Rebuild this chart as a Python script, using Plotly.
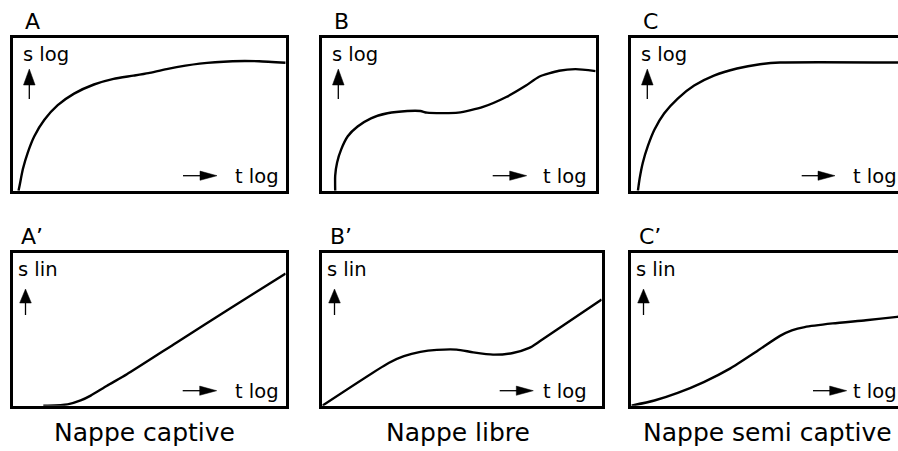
import plotly.graph_objects as go

FIG_W, FIG_H = 898, 451
FRAME_W = 2.7
CURVE_W = 2.4
FONT = "DejaVu Sans"

# Diagnostic drawdown curves: t = position along the log-time axis,
# s = drawdown, both scaled 0..1 inside each frame.
a_t = [0.019, 0.023, 0.035, 0.053, 0.077, 0.114, 0.163, 0.223, 0.296, 0.368,
       0.441, 0.496, 0.563, 0.684, 0.805, 0.902, 1.0]
a_s = [0.0, 0.034, 0.142, 0.250, 0.357, 0.465, 0.561, 0.637, 0.697, 0.734,
       0.755, 0.772, 0.798, 0.834, 0.850, 0.850, 0.840]

b_t = [0.047, 0.047, 0.054, 0.069, 0.093, 0.129, 0.178, 0.238, 0.311, 0.359,
       0.383, 0.497, 0.588, 0.673, 0.745, 0.793, 0.866, 0.926, 1.0]
b_s = [0.0, 0.099, 0.185, 0.271, 0.357, 0.421, 0.475, 0.508, 0.523, 0.523,
       0.512, 0.512, 0.550, 0.615, 0.690, 0.748, 0.787, 0.798, 0.785]

c_t = [0.024, 0.030, 0.042, 0.060, 0.084, 0.120, 0.169, 0.229, 0.301, 0.385,
       0.469, 0.542, 1.0]
c_s = [0.0, 0.077, 0.185, 0.292, 0.400, 0.508, 0.605, 0.690, 0.755, 0.802,
       0.830, 0.841, 0.841]

a2_t = [0.11, 0.126, 0.199, 0.247, 0.284, 0.344, 0.417, 0.6, 0.8, 1.0]
a2_s = [0.0, 0.0, 0.008, 0.034, 0.066, 0.131, 0.206, 0.415, 0.643, 0.867]

b2_t = [0.0, 0.239, 0.292, 0.351, 0.410, 0.481, 0.540, 0.611, 0.682, 0.741,
        0.777, 1.0]
b2_s = [0.0, 0.282, 0.325, 0.353, 0.366, 0.368, 0.350, 0.335, 0.346, 0.379,
        0.421, 0.697]

c2_t = [0.0, 0.084, 0.169, 0.264, 0.361, 0.458, 0.542, 0.585, 0.632, 0.734,
        0.855, 0.969, 1.0]
c2_s = [0.0, 0.034, 0.084, 0.155, 0.245, 0.358, 0.458, 0.494, 0.516, 0.540,
        0.561, 0.583, 0.590]

panel_labels = ["A", "B", "C", "A\u2019", "B\u2019", "C\u2019"]
s_labels = ["s log", "s log", "s log", "s lin", "s lin", "s lin"]
t_label = "t log"
captions = ["Nappe captive", "Nappe libre", "Nappe semi captive"]

curves = [(a_t, a_s), (b_t, b_s), (c_t, c_s),
          (a2_t, a2_s), (b2_t, b2_s), (c2_t, c2_s)]

# Frame outlines in pixels: left, top, right, bottom
frames = [(12, 37, 287, 192), (321, 37, 597, 192), (630, 37, 907, 192),
          (12, 252, 287, 407), (321, 252, 603, 407), (630, 252, 907, 407)]


def px(x):
    return x / FIG_W


def py(y):
    return 1 - y / FIG_H


fig = go.Figure()
shapes = []
annotations = []
half = FRAME_W / 2

for i, ((t, s), (l, top, r, b)) in enumerate(zip(curves, frames)):
    n = "" if i == 0 else str(i + 1)
    inner_l, inner_r = l + half, r - half
    inner_t, inner_b = top + half, b - half
    clipped = inner_r > FIG_W
    dom_r = min(inner_r, FIG_W)
    x_max = (dom_r - inner_l) / (inner_r - inner_l)

    fig.add_trace(go.Scatter(
        x=t, y=s, mode="lines", xaxis="x" + n, yaxis="y" + n,
        line=dict(color="black", width=CURVE_W, shape="spline", smoothing=0.6),
        hoverinfo="skip", showlegend=False, cliponaxis=True,
    ))

    axis_common = dict(showgrid=False, zeroline=False, showticklabels=False,
                       ticks="", showline=True, linecolor="black",
                       linewidth=FRAME_W, fixedrange=True)
    fig.layout["xaxis" + n] = dict(
        axis_common, domain=[px(inner_l), px(dom_r)], range=[0, x_max],
        anchor="y" + n, mirror=True)
    fig.layout["yaxis" + n] = dict(
        axis_common, domain=[py(inner_b), py(inner_t)], range=[0, 1],
        anchor="x" + n, mirror=not clipped)

    bottom_row = i >= 3
    # panel letter
    annotations.append(dict(
        text=panel_labels[i], x=px(l + (7 if bottom_row else 11)),
        y=py(top - 15.5), xanchor="left", yanchor="middle",
        font=dict(size=22)))
    # drawdown axis caption and arrow
    annotations.append(dict(
        text=s_labels[i], x=px(l + (4 if bottom_row else 8.5)),
        y=py(top + 17), xanchor="left", yanchor="middle",
        font=dict(size=19.5)))
    ax_x = l + (13.5 if bottom_row else 17.3)
    tip, base, end = (top + 37, top + 51, top + 63) if bottom_row else \
        (top + 32, top + 48, top + 62)
    shapes.append(dict(type="line", xref="paper", yref="paper",
                       x0=px(ax_x), x1=px(ax_x), y0=py(base), y1=py(end),
                       line=dict(color="black", width=1.3)))
    shapes.append(dict(type="path", xref="paper", yref="paper",
                       path=f"M {px(ax_x)},{py(tip)} L {px(ax_x - 5.8)},{py(base)} "
                            f"L {px(ax_x + 5.8)},{py(base)} Z",
                       fillcolor="black", line=dict(color="black", width=0.5)))
    # time axis caption and arrow
    t_left = [233, 540.7, 850.7, 233, 540.7, 850.7][i]
    arr = [(183, 217), (492.7, 526.7), (801.7, 835),
           (182.7, 216.7), (499.7, 533.3), (813, 846.7)][i]
    ay = b - 16.3
    shapes.append(dict(type="line", xref="paper", yref="paper",
                       x0=px(arr[0]), x1=px(arr[1] - 16), y0=py(ay), y1=py(ay),
                       line=dict(color="black", width=1.3)))
    shapes.append(dict(type="path", xref="paper", yref="paper",
                       path=f"M {px(arr[1])},{py(ay)} L {px(arr[1] - 17)},{py(ay - 4.6)} "
                            f"L {px(arr[1] - 17)},{py(ay + 4.6)} Z",
                       fillcolor="black", line=dict(color="black", width=0.5)))
    annotations.append(dict(
        text=t_label, x=px(t_left), y=py(b - 15.7), xanchor="left",
        yanchor="middle", font=dict(size=19.5)))

for cap, cx in zip(captions, [144, 458, 767]):
    annotations.append(dict(text=cap, x=px(cx), y=py(432), xanchor="center",
                            yanchor="middle", font=dict(size=25)))

for a in annotations:
    a.update(xref="paper", yref="paper", showarrow=False)
    a["font"].update(family=FONT, color="black")

fig.update_layout(
    width=FIG_W, height=FIG_H, margin=dict(l=0, r=0, t=0, b=0),
    paper_bgcolor="white", plot_bgcolor="white", showlegend=False,
    shapes=shapes, annotations=annotations,
)

fig.write_html("out.html", config={"displayModeBar": False})
